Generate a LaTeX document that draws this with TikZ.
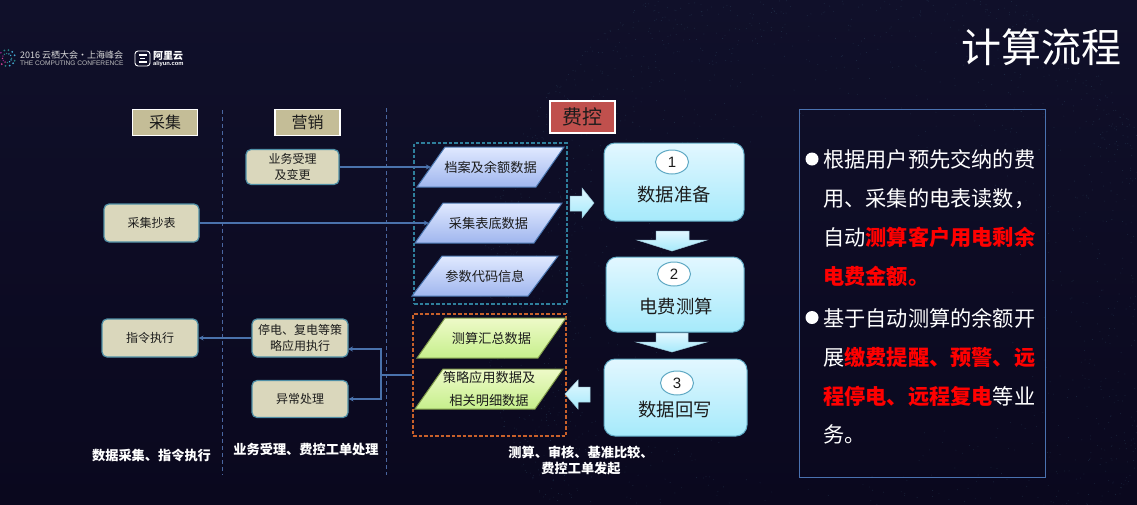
\documentclass[tikz,border=0pt]{standalone}
\usepackage{fontspec}
\setmainfont{Noto Sans CJK SC}
\setsansfont{Liberation Sans}
\usetikzlibrary{shapes.geometric,arrows.meta,calc}
\definecolor{bgtop}{HTML}{10102A}
\definecolor{bgbot}{HTML}{0A081E}
\definecolor{headtan}{HTML}{C4BD97}
\definecolor{headred}{HTML}{C0504D}
\definecolor{boxtan}{HTML}{DAD7BC}
\definecolor{boxedge}{HTML}{4F8FA6}
\definecolor{wire}{HTML}{4A72AC}
\definecolor{ink}{HTML}{1C1C1C}
\definecolor{cyanedge}{HTML}{5FA9C4}
\definecolor{cyantop}{HTML}{E2F7FF}
\definecolor{cyanbot}{HTML}{A6EAFB}
\definecolor{bluetop}{HTML}{E0E9FF}
\definecolor{bluebot}{HTML}{A0B6EE}
\definecolor{blueedge}{HTML}{4A76B0}
\definecolor{greentop}{HTML}{EEFAC8}
\definecolor{greenbot}{HTML}{C6EF8C}
\definecolor{greenedge}{HTML}{7F9A4A}
\definecolor{dashblue}{HTML}{2F7F9C}
\definecolor{dashorange}{HTML}{C8602A}
\definecolor{divider}{HTML}{4A66A0}
\definecolor{panel}{HTML}{4A72B0}
\definecolor{hot}{HTML}{FF0000}
\tikzset{
  header/.style={draw=white,line width=1.5pt,inner sep=0pt,text=ink,font=\fontsize{16}{16}\selectfont},
  smallbox/.style={draw=boxedge,line width=1.2pt,fill=boxtan,rounded corners=5pt,inner sep=0pt,
    text=ink,align=center,font=\fontsize{12}{16.5}\selectfont},
  bigbox/.style={draw=cyanedge,line width=1pt,top color=cyantop,bottom color=cyanbot,rounded corners=11pt,inner sep=0pt},
  bigtext/.style={text=ink,inner sep=0pt,font=\fontsize{18.3}{20}\selectfont},
  numoval/.style={ellipse,draw=cyanedge,line width=1pt,fill=white,minimum width=33pt,minimum height=24pt,inner sep=0pt,
    text=ink,font=\sffamily\fontsize{15}{15}\selectfont},
  paraface/.style={inner sep=0pt,minimum height=40pt,text=ink,align=center,font=\fontsize{13.2}{23}\selectfont},
  bluepara/.style={line width=1pt,draw=blueedge,top color=bluetop,bottom color=bluebot},
  greenpara/.style={line width=1pt,draw=greenedge,top color=greentop,bottom color=greenbot},
  group/.style={draw,dash pattern=on 3.5pt off 2pt,line width=1.2pt,inner sep=0pt},
  conn/.style={draw=wire,line width=1.5pt,-{Stealth[length=5pt,width=5pt]}},
  wirel/.style={draw=wire,line width=1.5pt},
  divline/.style={draw=divider,line width=1pt,dash pattern=on 4pt off 3pt},
  blockarrow/.style={draw=cyanedge!60,line width=.5pt,top color=cyantop,bottom color=cyanbot},
  caption/.style={text=white,inner sep=0pt,align=center,font=\bfseries\fontsize{13.2}{16}\selectfont},
  para/.style={text=white,inner sep=0pt,align=left,anchor=west,font=\fontsize{21.2}{38.8}\selectfont},
}
\newcommand{\hotb}[1]{\textcolor{hot}{\bfseries #1}}
% #1 name, #2 style, #3 cx, #4 cy, #5 full width, #6 slant, #7 text
\newcommand{\slantbox}[7]{%
  \path[#2] ({#3-#5/2},{#4+20}) -- ({#3-#5/2+#6},{#4-20}) -- ({#3+#5/2},{#4-20}) -- ({#3+#5/2-#6},{#4+20}) -- cycle;
  \pgfmathsetmacro{\midw}{#5-#6}
  \node[paraface,minimum width=\midw pt] (#1) at (#3,#4) {#7};
}
\begin{document}
\begin{tikzpicture}[x=1pt,y=-1pt]
\useasboundingbox (0,0) rectangle (1137,504);
\shade[top color=bgtop,bottom color=bgbot] (0,0) rectangle (1137,504);
% dotted globe texture
\begin{scope}
\clip (0,0) rectangle (1137,504);
\pgfmathsetseed{7}
\foreach \i in {1,...,2600}{
  \pgfmathsetmacro{\ang}{rnd*360}
  \pgfmathsetmacro{\rad}{350*(1-0.55*rnd*rnd)}
  \fill[blue!30!cyan!35!gray,opacity=.22] ({830+\rad*cos(\ang)},{300+\rad*sin(\ang)}) circle (.45pt);
}
\end{scope}
% logo
\foreach \a/\c in {20/cyan,50/cyan,80/teal,110/teal,140/violet,170/magenta,200/violet,230/magenta,260/teal,290/cyan,320/cyan,340/teal}{
  \fill[\c!70!gray] ({7+8*cos(\a)},{58-8*sin(\a)}) circle (1pt);
  \fill[\c!70!gray] ({7+4.5*cos(\a+15)},{58-4.5*sin(\a+15)}) circle (.8pt);
}
\node[text=white!85!black,inner sep=0pt,anchor=west,font=\fontsize{9}{9}\selectfont] (logoa) at (20,55) {2016 云栖大会·上海峰会};
\node[text=white!75!black,inner sep=0pt,anchor=west,font=\sffamily\fontsize{6.6}{7}\selectfont] (logob) at (20,63) {THE COMPUTING CONFERENCE};
\draw[white,line width=.9pt,rounded corners=3pt] (135,51) rectangle (150,66);
\draw[white,line width=1.5pt] (138.5,55) -- (146.5,55) (138.5,62) -- (146.5,62) (140,58.5) -- (145,58.5);
\node[text=white,inner sep=0pt,anchor=west,font=\bfseries\fontsize{10}{10}\selectfont] (logoc) at (153,56) {阿里云};
\node[text=white,inner sep=0pt,anchor=west,font=\sffamily\bfseries\fontsize{5.8}{6}\selectfont] (logod) at (153,64) {aliyun.com};
% title
\node[text=white,inner sep=0pt,font=\fontsize{40}{40}\selectfont] (title) at (1041,47) {计算流程};
% dividers
\draw[divline] (222,110) -- (222,475);
\draw[divline] (386,108) -- (386,475);
% headers
\node[header,fill=headtan,minimum width=65pt,minimum height=26pt] (h1) at (165,122.5) {采集};
\node[header,fill=headtan,minimum width=65pt,minimum height=26pt] (h2) at (307.5,122.5) {营销};
\node[header,fill=headred,minimum width=65pt,minimum height=32pt,font=\fontsize{20}{20}\selectfont] (h3) at (582.5,117) {费控};
% small boxes
\node[smallbox,minimum width=93pt,minimum height=35pt] (b1) at (292.5,167) {业务受理\\及变更};
\node[smallbox,minimum width=95pt,minimum height=38pt] (b2) at (151.5,223) {采集抄表};
\node[smallbox,minimum width=96pt,minimum height=38pt] (b3) at (150,338) {指令执行};
\node[smallbox,minimum width=96pt,minimum height=38pt] (b4) at (300,338) {停电、复电等策\\略应用执行};
\node[smallbox,minimum width=96pt,minimum height=37pt] (b5) at (300,399) {异常处理};
% groups
\node[group,draw=dashblue,minimum width=153pt,minimum height=161pt] (g1) at (490.5,223.5) {};
\node[group,draw=dashorange,minimum width=153pt,minimum height=122pt] (g2) at (489.5,375) {};
% parallelograms
\slantbox{p1}{bluepara}{490.5}{167}{147}{28}{档案及余额数据}
\slantbox{p2}{bluepara}{488.5}{223}{147}{28}{采集表底数据}
\slantbox{p3}{bluepara}{485}{276}{146}{30}{参数代码信息}
\slantbox{p4}{greenpara}{491.5}{338}{149}{28}{测算汇总数据}
\slantbox{p5}{greenpara}{489}{389}{148}{28}{策略应用数据及\\相关明细数据}
% big boxes
\node[bigbox,minimum width=140pt,minimum height=78pt] (s1) at (674,182) {};
\node[bigbox,minimum width=138pt,minimum height=75pt] (s2) at (675,294.5) {};
\node[bigbox,minimum width=143pt,minimum height=77pt] (s3) at (675.5,397.5) {};
\node[numoval] (n1) at (672,162) {1};
\node[numoval] (n2) at (674,274) {2};
\node[numoval] (n3) at (677,383) {3};
\node[bigtext] (t1) at (674,195) {数据准备};
\node[bigtext] (t2) at (676,307) {电费测算};
\node[bigtext] (t3) at (675,410) {数据回写};
% block arrows
\path[blockarrow] (570,196) -- (582,196) -- (582,188) -- (594,203) -- (582,218) -- (582,211) -- (570,211) -- cycle;
\path[blockarrow] (656,231) -- (689,231) -- (689,240) -- (707,240) -- (672,251) -- (637,240) -- (656,240) -- cycle;
\path[blockarrow] (656,333) -- (688,333) -- (688,342) -- (707,342) -- (672,352) -- (636,342) -- (656,342) -- cycle;
\path[blockarrow] (590,387) -- (578,387) -- (578,380) -- (565,394) -- (578,409) -- (578,402) -- (590,402) -- cycle;
% connectors
\draw[conn] (b1.east) -- (p1.west);
\draw[conn] (b2.east) -- (p2.west);
\draw[conn] (b4.west) -- (b3.east);
\coordinate (jn) at (381,375);
\coordinate (b4port) at (348,349);
\draw[wirel] (g2.west) -- (jn);
\draw[conn] (jn) |- (b4port);
\draw[conn] (jn) |- (b5.east);
% captions
\node[caption] (c1) at (151.5,455) {数据采集、指令执行};
\node[caption] (c2) at (306,449) {业务受理、费控工单处理};
\node[caption] (c3) at (581,460) {测算、审核、基准比较、\\费控工单发起};
% panel
\node[draw=panel,line width=1pt,minimum width=246pt,minimum height=368pt,inner sep=0pt] (panelbox) at (922.5,293.5) {};
\fill[white] (812,159) circle (6.5pt);
\fill[white] (812,317.5) circle (6.5pt);
\node[para] (pa) at (823,218) {根据用户预先交纳的费\\用、采集的电表读数，\\自动\hotb{测算客户用电剩余}\\\hotb{电费金额。}};
\node[para] (pb) at (823,376.5) {基于自动测算的余额开\\展\hotb{缴费提醒、预警、远}\\\hotb{程停电、远程复电}等业\\务。};
\end{tikzpicture}
\end{document}
